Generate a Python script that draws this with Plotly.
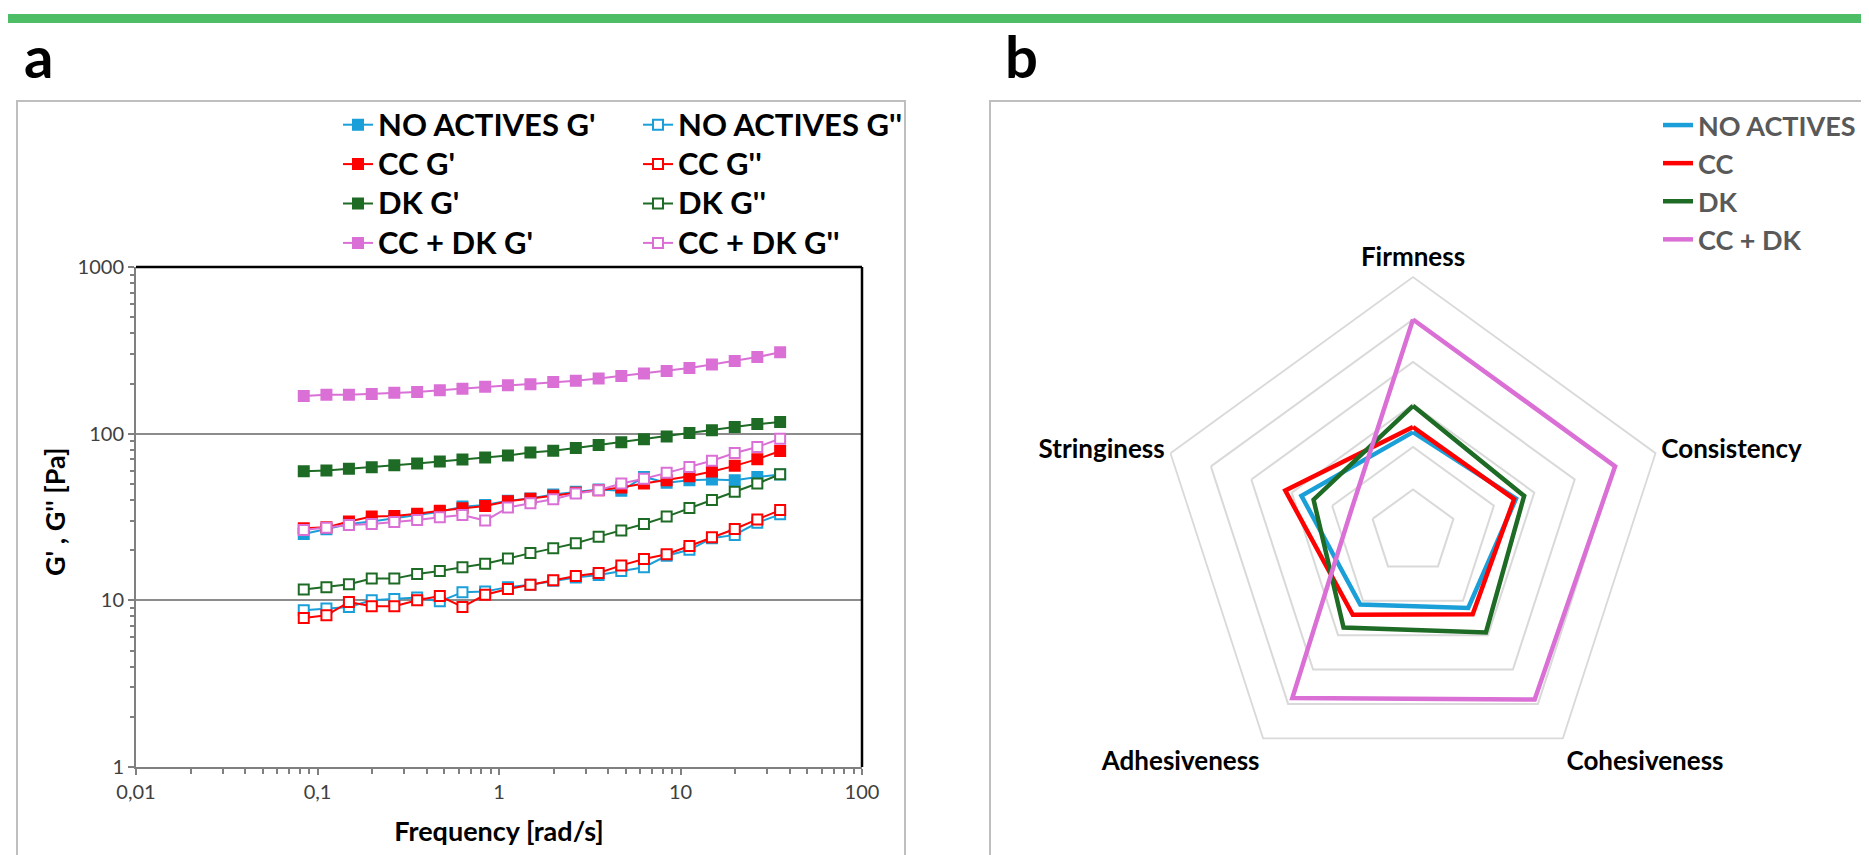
import plotly.graph_objects as go

# ---------------- data: panel a (frequency sweep) ----------------
freq = [0.084, 0.112, 0.149, 0.199, 0.265, 0.354, 0.472, 0.629, 0.839, 1.12, 1.49,
        1.99, 2.65, 3.54, 4.72, 6.29, 8.39, 11.2, 14.9, 19.9, 26.5, 35.4]

na_gp = [25.0, 26.7, 28.7, 29.7, 31.0, 32.5, 34.0, 36.5, 37.3, 39.6, 40.9,
         43.2, 44.8, 46.3, 45.4, 55.0, 50.7, 52.6, 53.1, 52.6, 55.0, 56.9]
na_gpp = [8.71, 8.92, 9.12, 10.0, 10.2, 10.4, 9.86, 11.2, 11.3, 12.0, 12.4,
          13.1, 13.7, 14.2, 15.0, 15.8, 18.5, 20.1, 23.6, 24.7, 29.2, 32.8]
cc_gp = [27.1, 27.4, 29.7, 31.8, 32.1, 33.1, 34.5, 35.7, 36.8, 39.3, 40.7,
         42.4, 44.2, 45.8, 47.5, 50.2, 52.6, 55.6, 59.3, 64.1, 70.3, 78.7]
cc_gpp = [7.84, 8.13, 9.77, 9.21, 9.21, 10.0, 10.6, 9.12, 10.8, 11.7, 12.4,
          13.2, 14.0, 14.6, 16.2, 17.7, 18.9, 21.2, 23.9, 26.8, 30.6, 34.8]
dk_gp = [59.6, 60.1, 61.5, 62.9, 64.7, 66.2, 68.1, 70.0, 71.9, 73.9, 77.0,
         79.1, 82.1, 85.6, 88.8, 92.5, 96.0, 101.0, 104.7, 109.6, 114.2, 117.4]
dk_gpp = [11.6, 12.0, 12.5, 13.5, 13.5, 14.4, 15.0, 15.8, 16.6, 17.8, 19.2,
          20.5, 22.0, 24.1, 26.2, 28.7, 31.8, 35.8, 40.0, 44.8, 50.2, 57.1]
ccdk_gp = [168, 171, 171, 173, 176, 178, 182, 186, 191, 195, 198,
           204, 208, 214, 222, 230, 238, 248, 260, 273, 288, 308]
ccdk_gpp = [26.4, 27.3, 28.3, 28.7, 29.5, 30.3, 31.5, 32.5, 30.1, 36.0, 38.2,
            40.4, 43.8, 45.8, 50.2, 53.6, 58.2, 63.2, 68.8, 76.6, 83.2, 93.3]

x_tickvals = [0.01, 0.1, 1, 10, 100]
x_ticktext = ["0,01", "0,1", "1", "10", "100"]
y_tickvals = [1, 10, 100, 1000]
y_ticktext = ["1", "10", "100", "1000"]
x_title = "Frequency [rad/s]"
y_title = "G' , G'' [Pa]"

# ---------------- data: panel b (texture radar) ----------------
attributes = ["Firmness", "Consistency", "Cohesiveness", "Adhesiveness", "Stringiness"]
radar_na = [2.35, 2.55, 2.21, 2.11, 2.76]
radar_cc = [2.47, 2.50, 2.39, 2.41, 3.16]
radar_dk = [2.97, 2.75, 2.92, 2.78, 2.46]
radar_ccdk = [5.00, 5.00, 4.87, 4.83, 1.54]

# ---------------- styling ----------------
W, H = 1869, 855
OFF = 8  # page offset of the figure (default body margin)
FONT = "Lato"
C_BLUE = "#1B9FD9"
C_RED = "#FF0000"
C_GREEN = "#1E6B25"
C_PINK = "#DA70D6"

def px_x(p):
    return (p - OFF) / W

def px_y(p):
    return 1 - (p - OFF) / H

fig = go.Figure()

series_a = [
    ("NO ACTIVES G'", na_gp, C_BLUE, True, "legend"),
    ("NO ACTIVES G''", na_gpp, C_BLUE, False, "legend2"),
    ("CC G'", cc_gp, C_RED, True, "legend"),
    ("CC G''", cc_gpp, C_RED, False, "legend2"),
    ("DK G'", dk_gp, C_GREEN, True, "legend"),
    ("DK G''", dk_gpp, C_GREEN, False, "legend2"),
    ("CC + DK G'", ccdk_gp, C_PINK, True, "legend"),
    ("CC + DK G''", ccdk_gpp, C_PINK, False, "legend2"),
]
for name, vals, col, filled, leg in series_a:
    fig.add_trace(go.Scatter(
        x=freq, y=vals, name="<span style='font-size:31px'>" + name + "</span>",
        mode="lines+markers",
        line=dict(color=col, width=2),
        marker=dict(symbol="square", size=10, color=col if filled else "white",
                    line=dict(color=col, width=2)),
        legend=leg, xaxis="x", yaxis="y",
    ))

series_b = [
    ("NO ACTIVES", radar_na, C_BLUE),
    ("CC", radar_cc, C_RED),
    ("DK", radar_dk, C_GREEN),
    ("CC + DK", radar_ccdk, C_PINK),
]
for name, vals, col in series_b:
    fig.add_trace(go.Scatterpolar(
        r=vals + vals[:1], theta=attributes + attributes[:1], name=name,
        mode="lines", line=dict(color=col, width=4.5),
        legend="legend3", subplot="polar",
    ))

legend_common = dict(
    bgcolor="rgba(0,0,0,0)", borderwidth=0, orientation="v",
    xref="container", yref="container",
    xanchor="left", yanchor="top", tracegroupgap=0, itemwidth=30,
)

fig.update_layout(
    width=W, height=H, autosize=False,
    margin=dict(l=0, r=0, t=0, b=0, pad=0, autoexpand=False),
    paper_bgcolor="white", plot_bgcolor="white",
    font=dict(family=FONT, color="#000000"),
    showlegend=True,
    xaxis=dict(
        domain=[px_x(136), px_x(862)], anchor="y", automargin=True,
        type="log", range=[-2, 2],
        tickvals=x_tickvals, ticktext=x_ticktext,
        tickfont=dict(family=FONT, size=20, color="#404040"),
        ticks="outside", ticklen=6, tickwidth=1.5, tickcolor="#808080",
        minor=dict(ticks="outside", ticklen=5, tickwidth=1.5, tickcolor="#808080",
                   dtick="D1", showgrid=False),
        showline=True, linecolor="#808080", linewidth=2,
        showgrid=False, zeroline=False,
        title=dict(text=x_title, standoff=20,
                   font=dict(family=FONT, size=27, color="#000000", weight="bold")),
    ),
    yaxis=dict(
        domain=[px_y(767), px_y(267)], anchor="x", automargin=True,
        type="log", range=[0, 3],
        tickvals=y_tickvals, ticktext=y_ticktext,
        tickfont=dict(family=FONT, size=20, color="#404040"),
        ticks="outside", ticklen=6, tickwidth=1.5, tickcolor="#808080",
        minor=dict(ticks="outside", ticklen=4, tickwidth=1.5, tickcolor="#808080",
                   dtick="D1", showgrid=False),
        showline=True, linecolor="#808080", linewidth=2,
        showgrid=True, gridcolor="#8C8C8C", gridwidth=1.5, zeroline=False,
    ),
    polar=dict(
        domain=dict(x=[px_x(1158), px_x(1668)], y=[px_y(787), px_y(277)]),
        gridshape="linear", bgcolor="white",
        radialaxis=dict(range=[0, 6], dtick=1, showticklabels=False, ticks="",
                        showline=False, gridcolor="#D9D9D9", gridwidth=1.8),
        angularaxis=dict(rotation=90, direction="clockwise", showgrid=False,
                         showline=True, linecolor="#D9D9D9", linewidth=1.8, ticks="",
                         tickfont=dict(family=FONT, size=26, color="#000000", weight="bold")),
    ),
    legend=dict(legend_common, x=px_x(338), y=px_y(100),
                font=dict(family=FONT, size=28, color="#000000", weight="bold")),
    legend2=dict(legend_common, x=px_x(638), y=px_y(100),
                 font=dict(family=FONT, size=28, color="#000000", weight="bold")),
    legend3=dict(legend_common, x=px_x(1658), y=px_y(101),
                 font=dict(family=FONT, size=27, color="#595959", weight="bold")),
)

# y-axis title (as rotated text beside the axis)
fig.add_annotation(text="<b>" + y_title + "</b>", textangle=-90,
                   xref="paper", yref="paper", x=px_x(55), y=px_y(512),
                   xanchor="center", yanchor="middle", showarrow=False,
                   font=dict(family=FONT, size=27, color="#000000"))

# green band, panel frames, plot-area frame (top/right)
fig.add_shape(type="rect", xref="paper", yref="paper", x0=0, x1=1,
              y0=px_y(23), y1=px_y(14), line=dict(width=0), fillcolor="#4DBE66", layer="below")
fig.add_shape(type="rect", xref="paper", yref="paper", x0=px_x(17), x1=px_x(905),
              y0=px_y(880), y1=px_y(101), line=dict(color="#BFBFBF", width=2), layer="below")
fig.add_shape(type="rect", xref="paper", yref="paper", x0=px_x(990), x1=px_x(1900),
              y0=px_y(880), y1=px_y(101), line=dict(color="#BFBFBF", width=2), layer="below")
fig.add_shape(type="line", xref="x domain", yref="y domain", x0=0, x1=1, y0=1, y1=1,
              line=dict(color="#000000", width=2.5))
fig.add_shape(type="line", xref="x domain", yref="y domain", x0=1, x1=1, y0=0, y1=1,
              line=dict(color="#000000", width=2.5))

fig.add_annotation(text="<b>a</b>", xref="paper", yref="paper", x=px_x(22), y=px_y(92),
                   xanchor="left", yanchor="bottom", showarrow=False,
                   font=dict(family=FONT, size=58, color="#000000"))
fig.add_annotation(text="<b>b</b>", xref="paper", yref="paper", x=px_x(1003), y=px_y(92),
                   xanchor="left", yanchor="bottom", showarrow=False,
                   font=dict(family=FONT, size=58, color="#000000"))

fig.write_html("out.html")
